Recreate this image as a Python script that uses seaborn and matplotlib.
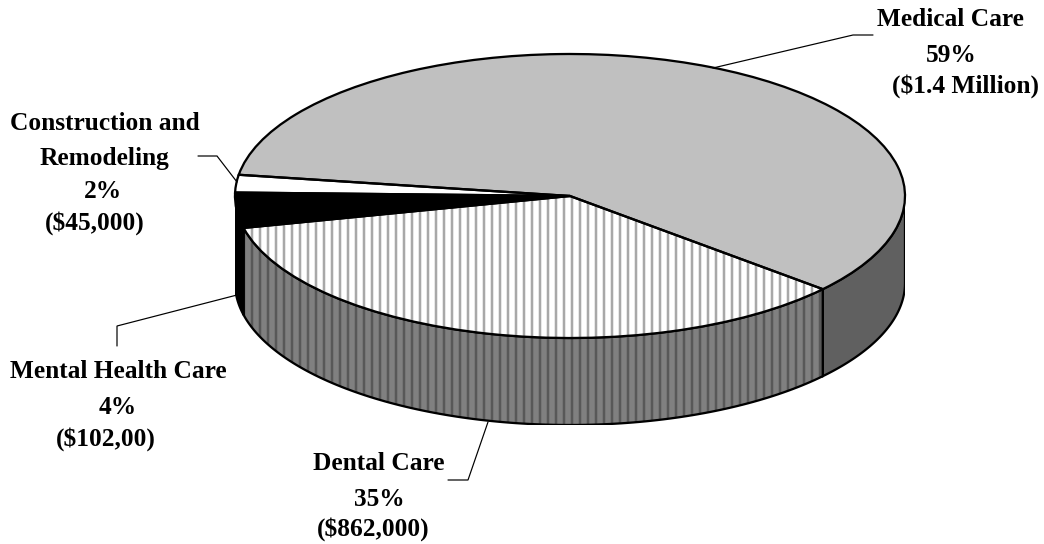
import numpy as np
import matplotlib
matplotlib.use("Agg")
import matplotlib.pyplot as plt
import seaborn as sns

# counter-clockwise order starting at the medical/dental edge
categories = ["Medical Care", "Construction and\nRemodeling", "Mental Health Care", "Dental Care"]
shares = [59, 2, 4, 35]
amounts = ["($1.4 Million)", "($45,000)", "($102,00)", "($862,000)"]

top_colors = ["#c0c0c0", "#ffffff", "#000000", "#ffffff"]
wall_colors = ["#606060", "#ffffff", "#000000", "#808080"]
START_ANGLE = -41
DEPTH = 87 / 142

W, H = 1044, 544
DPI = 96

sns.set_theme(style="white", rc={"hatch.linewidth": 1.9})
plt.rcParams["font.family"] = ["Liberation Serif", "DejaVu Serif"]

fig = plt.figure(figsize=(W / DPI, H / DPI), dpi=DPI, facecolor="white")

# the pie axes cover the top ellipse plus the side wall
ax = fig.add_axes([235 / W, 1 - 425 / H, 670 / W, (425 - 54) / H])
overlay = fig.add_axes([0, 0, 1, 1], facecolor="none")
overlay.set_xlim(0, W)
overlay.set_ylim(H, 0)
overlay.axis("off")


def draw_wall(t0, t1, color, hatch=None):
    # t0, t1 in degrees, only the part on the front of the ellipse shows
    t0, t1 = max(t0, 180), min(t1, 360)
    if t1 <= t0:
        return
    t = np.radians(np.linspace(t0, t1, 120))
    x, y = np.cos(t), np.sin(t)
    xs = np.concatenate([x, x[::-1]])
    ys = np.concatenate([y, y[::-1] - DEPTH])
    if hatch:
        ax.fill(xs, ys, facecolor=color, edgecolor="#585858", hatch=hatch, linewidth=0, zorder=1)
        ax.fill(xs, ys, facecolor="none", edgecolor="black", linewidth=1.7, zorder=1.5)
    else:
        ax.fill(xs, ys, facecolor=color, edgecolor="black", linewidth=1.7, zorder=1.5)


edges = START_ANGLE + np.cumsum([0] + shares) * 3.6
for i, color in enumerate(wall_colors):
    hatch = "||" if categories[i] == "Dental Care" else None
    # walls live on 180..360, so look at the slice in both wraps
    draw_wall(edges[i], edges[i + 1], color, hatch)
    draw_wall(edges[i] + 360, edges[i + 1] + 360, color, hatch)

wedges, _ = ax.pie(shares, colors=top_colors, startangle=START_ANGLE, radius=1,
                   wedgeprops={"linewidth": 0, "zorder": 2})
for wedge, name in zip(wedges, categories):
    if name == "Dental Care":
        wedge.set(hatch="||", edgecolor="#a8a8a8", linewidth=0)
outline, _ = ax.pie(shares, colors=["none"] * 4, startangle=START_ANGLE, radius=1,
                    wedgeprops={"linewidth": 1.7, "edgecolor": "black", "zorder": 3})

ax.set_aspect("auto")
ax.set_xlim(-1, 1)
ax.set_ylim(-1 - DEPTH, 1)
ax.axis("off")

leaders = [
    ([713, 853, 873], [68, 35, 35]),
    ([198, 217, 237], [156, 156, 182]),
    ([117, 117, 237], [346, 326, 295]),
    ([448, 468, 488], [480, 480, 422]),
]
for xs, ys in leaders:
    overlay.plot(xs, ys, color="black", linewidth=0.9, solid_joinstyle="miter")

# every line of a label sits on its own, the original has uneven centring
label_lines = [
    ("Medical Care", 950, 20),
    ("59%", 951, 55),
    (amounts[0], 965, 86),
    ("Construction and", 105, 124),
    ("Remodeling", 104, 158),
    ("2%", 103, 192),
    (amounts[1], 95, 223),
    ("Mental Health Care", 118, 372),
    ("4%", 118, 407),
    (amounts[2], 106, 439),
    ("Dental Care", 379, 464),
    ("35%", 379, 500),
    (amounts[3], 373, 529),
]
for text, x, y in label_lines:
    overlay.text(x, y, text, ha="center", va="center", fontsize=19, fontweight="bold",
                 color="black", parse_math=False)

fig.savefig("out.png", dpi=DPI)
